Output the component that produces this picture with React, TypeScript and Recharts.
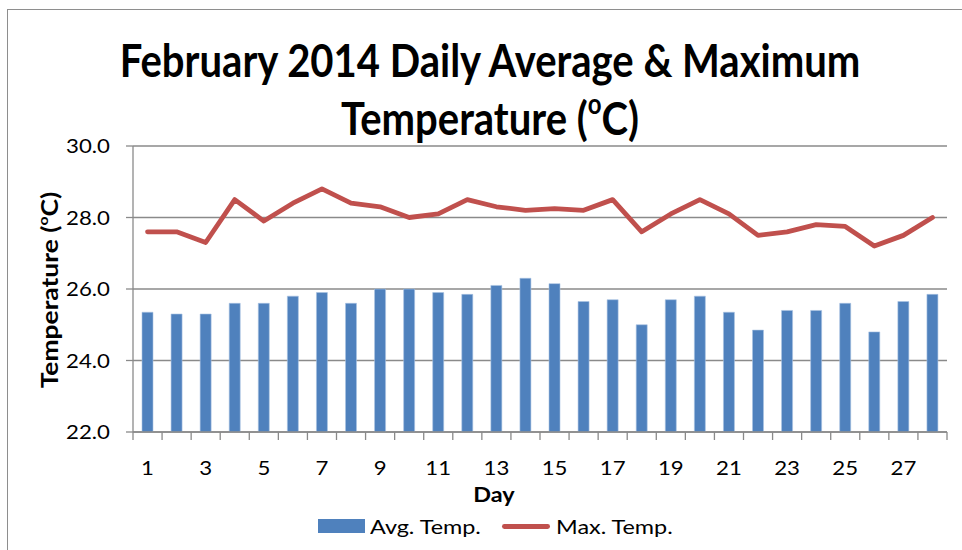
import React from "react";
import {
  ComposedChart,
  Bar,
  Line,
  XAxis,
  YAxis,
  CartesianGrid,
} from "recharts";

const days = [
  1, 2, 3, 4, 5, 6, 7, 8, 9, 10, 11, 12, 13, 14, 15, 16, 17, 18, 19, 20, 21,
  22, 23, 24, 25, 26, 27, 28,
];
const avgTemp = [
  25.35, 25.3, 25.3, 25.6, 25.6, 25.8, 25.9, 25.6, 26.0, 26.0, 25.9, 25.85,
  26.1, 26.3, 26.15, 25.65, 25.7, 25.0, 25.7, 25.8, 25.35, 24.85, 25.4, 25.4,
  25.6, 24.8, 25.65, 25.85,
];
const maxTemp = [
  27.6, 27.6, 27.3, 28.5, 27.9, 28.4, 28.8, 28.4, 28.3, 28.0, 28.1, 28.5, 28.3,
  28.2, 28.25, 28.2, 28.5, 27.6, 28.1, 28.5, 28.1, 27.5, 27.6, 27.8, 27.75,
  27.2, 27.5, 28.0,
];
const yTicks = [22, 24, 26, 28, 30];

const data = days.map((d, i) => ({ day: d, avg: avgTemp[i], max: maxTemp[i] }));

const W = 962;
const H = 550;
const PLOT_LEFT = 133;
const PLOT_RIGHT = 947;
const PLOT_TOP = 146;
const PLOT_BOTTOM = 432;
const BAND = (PLOT_RIGHT - PLOT_LEFT) / days.length;
const GRID = "#8a8a8a";
const FONT = "Lato, 'Open Sans', sans-serif";
const STRETCH = 1.17;

function DayTick(props: any) {
  const { x, payload } = props;
  const idx = payload.index ?? props.index ?? 0;
  const last = idx === days.length - 1;
  return (
    <g>
      <line
        x1={x - BAND / 2}
        x2={x - BAND / 2}
        y1={PLOT_BOTTOM}
        y2={PLOT_BOTTOM + 8}
        stroke={GRID}
        strokeWidth={1.3}
      />
      {last && (
        <line
          x1={x + BAND / 2}
          x2={x + BAND / 2}
          y1={PLOT_BOTTOM}
          y2={PLOT_BOTTOM + 8}
          stroke={GRID}
          strokeWidth={1.3}
        />
      )}
      {payload.value % 2 === 1 && (
        <text
          transform={`translate(${x},${PLOT_BOTTOM + 43}) scale(${STRETCH},1)`}
          textAnchor="middle"
          fontFamily={FONT}
          fontSize={19}
          fill="#000"
        >
          {payload.value}
        </text>
      )}
    </g>
  );
}

function TempTick(props: any) {
  const { x, y, payload } = props;
  return (
    <text
      transform={`translate(${x},${y + 7}) scale(${STRETCH},1)`}
      textAnchor="end"
      fontFamily={FONT}
      fontSize={19}
      fill="#000"
    >
      {Number(payload.value).toFixed(1)}
    </text>
  );
}

const supStyle: React.CSSProperties = {
  fontSize: "0.6em",
  position: "relative",
  top: "-0.75em",
  verticalAlign: "baseline",
};

export default function App() {
  const titleLine: React.CSSProperties = {
    position: "absolute",
    left: 490,
    transform: "translateX(-50%) scaleX(0.87)",
    whiteSpace: "nowrap",
    fontWeight: 700,
    fontSize: 46,
    lineHeight: "55px",
    color: "#000",
  };
  const legendText: React.CSSProperties = {
    position: "absolute",
    top: 513,
    fontSize: 20,
    lineHeight: "26px",
    whiteSpace: "nowrap",
    transform: `scaleX(${STRETCH})`,
    transformOrigin: "left center",
    color: "#000",
  };
  return (
    <div
      style={{
        position: "absolute",
        left: 0,
        top: 0,
        width: W,
        height: H,
        overflow: "hidden",
        background: "#fff",
        fontFamily: FONT,
      }}
    >
      <div
        style={{
          position: "absolute",
          left: 7,
          top: 9,
          width: 1100,
          height: 700,
          border: "1.5px solid #8e8e8e",
        }}
      />
      <div style={{ ...titleLine, top: 32 }}>
        February 2014 Daily Average &amp; Maximum
      </div>
      <div style={{ ...titleLine, top: 90 }}>
        Temperature (<span style={supStyle}>o</span>C)
      </div>
      <div style={{ position: "absolute", left: 0, top: 0 }}>
        <ComposedChart
          width={W}
          height={H}
          data={data}
          margin={{
            top: PLOT_TOP,
            right: W - PLOT_RIGHT,
            bottom: H - PLOT_BOTTOM - 40,
            left: PLOT_LEFT - 60,
          }}
          barCategoryGap={0}
        >
          <CartesianGrid vertical={false} stroke={GRID} strokeWidth={1.3} />
          <XAxis
            dataKey="day"
            interval={0}
            height={40}
            tickLine={false}
            axisLine={{ stroke: GRID, strokeWidth: 1.3 }}
            tick={<DayTick />}
          />
          <YAxis
            domain={[22, 30]}
            ticks={yTicks}
            width={60}
            tickSize={7}
            tickMargin={16}
            tickLine={{ stroke: GRID, strokeWidth: 1.3 }}
            axisLine={{ stroke: GRID, strokeWidth: 1.3 }}
            tick={<TempTick />}
          />
          <Bar
            dataKey="avg"
            fill="#4f81bd"
            stroke="#a9c2e2"
            strokeWidth={0.6}
            barSize={11}
            isAnimationActive={false}
          />
          <Line
            dataKey="max"
            stroke="#c0504d"
            strokeWidth={4.8}
            dot={false}
            strokeLinejoin="round"
            strokeLinecap="round"
            isAnimationActive={false}
          />
        </ComposedChart>
      </div>
      <div
        style={{
          position: "absolute",
          left: 51,
          top: 290,
          transform: "translate(-50%, -50%) rotate(-90deg) scaleX(1.2)",
          whiteSpace: "nowrap",
          fontWeight: 700,
          fontSize: 22,
          lineHeight: "26px",
          color: "#000",
        }}
      >
        Temperature (<span style={supStyle}>o</span>C)
      </div>
      <div
        style={{
          position: "absolute",
          left: 494,
          top: 482,
          transform: `translateX(-50%) scaleX(${STRETCH})`,
          fontWeight: 700,
          fontSize: 20,
          color: "#000",
        }}
      >
        Day
      </div>
      <div
        style={{
          position: "absolute",
          left: 318,
          top: 519,
          width: 47,
          height: 14,
          background: "#4f81bd",
        }}
      />
      <div style={{ ...legendText, left: 370 }}>Avg. Temp.</div>
      <div
        style={{
          position: "absolute",
          left: 502,
          top: 524,
          width: 48,
          height: 4.8,
          background: "#c0504d",
          borderRadius: 2.4,
        }}
      />
      <div style={{ ...legendText, left: 556 }}>Max. Temp.</div>
    </div>
  );
}
